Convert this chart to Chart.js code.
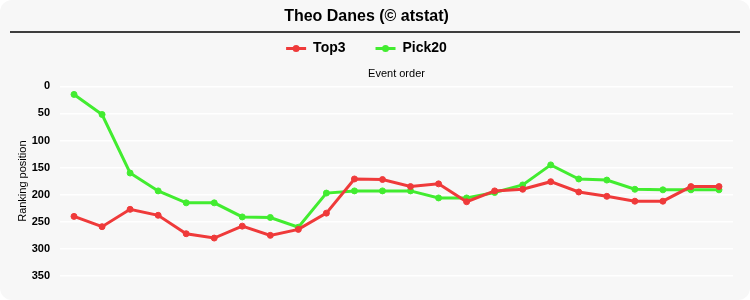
<!DOCTYPE html>
<html>
<head>
<meta charset="utf-8">
<script src="https://cdn.jsdelivr.net/npm/chart.js@4"></script>
<style>
  html,body{margin:0;padding:0;background:#ffffff;}
  #wrap{width:750px;height:300px;background:#f7f7f7;border-radius:12px;overflow:hidden;position:relative;}
  canvas{display:block;}
</style>
</head>
<body>
<div id="wrap"><canvas id="c" width="750" height="300"></canvas></div>
<script>
const titleText = 'Theo Danes (\u00a9 atstat)';
const events = ['1','2','3','4','5','6','7','8','9','10','11','12','13','14','15','16','17','18','19','20','21','22','23','24'];
const top3 =   [240, 259, 227, 238, 272, 280, 258, 275, 264, 234, 171, 172, 185, 180, 213, 193, 190, 176, 195, 203, 212, 212, 185, 185];
const pick20 = [15, 52, 160, 193, 215, 215, 241, 242, 260, 197, 193, 193, 193, 206, 206, 196, 182, 145, 171, 173, 190, 191, 191, 191];
const yTicks = [0, 50, 100, 150, 200, 250, 300, 350];

const RED = '#ef3a3a';
const GREEN = '#42ec30';
const arial = "'Liberation Sans',Arial,sans-serif";

const decor = {
  id: 'decor',
  afterDraw(chart) {
    const ctx = chart.ctx;
    ctx.save();
    ctx.strokeStyle = '#000';
    ctx.lineWidth = 1.5;
    ctx.beginPath();
    ctx.moveTo(10, 32);
    ctx.lineTo(740, 32);
    ctx.stroke();
    const lg = chart.legend;
    if (lg && lg.legendHitBoxes) {
      lg.legendHitBoxes.forEach((b, i) => {
        const ds = chart.data.datasets[i];
        const cx = b.left + lg.options.labels.boxWidth / 2;
        const cy = b.top + b.height / 2;
        ctx.fillStyle = ds.borderColor;
        ctx.beginPath();
        ctx.arc(cx, cy, 3.5, 0, Math.PI * 2);
        ctx.fill();
      });
    }
    ctx.restore();
  }
};

new Chart(document.getElementById('c'), {
  type: 'line',
  data: {
    labels: events,
    datasets: [
      { label: 'Top3', data: top3, borderColor: RED, backgroundColor: RED, pointBackgroundColor: RED, pointBorderColor: RED, borderWidth: 3, pointRadius: 3, pointBorderWidth: 1, tension: 0 },
      { label: 'Pick20', data: pick20, borderColor: GREEN, backgroundColor: GREEN, pointBackgroundColor: GREEN, pointBorderColor: GREEN, borderWidth: 3, pointRadius: 3, pointBorderWidth: 1, tension: 0 }
    ]
  },
  options: {
    responsive: false,
    animation: false,
    layout: { padding: { left: 0, right: 17, top: 4, bottom: 24 } },
    plugins: {
      title: { display: true, text: titleText, color: '#000', font: { family: arial, size: 16, weight: 'bold' }, padding: { top: 3, bottom: -14.7 } },
      legend: {
        display: true,
        labels: {
          color: '#000', font: { family: arial, size: 14, weight: 'bold' },
          boxWidth: 20, boxHeight: 3, padding: 30,
          generateLabels(chart) {
            return chart.data.datasets.map((ds, i) => ({
              text: ds.label, fillStyle: ds.borderColor, strokeStyle: ds.borderColor, lineWidth: 0, datasetIndex: i, hidden: false, fontColor: '#000'
            }));
          }
        }
      },
      tooltip: { enabled: false }
    },
    scales: {
      x: {
        type: 'category',
        position: 'top',
        offset: true,
        grid: { display: false, drawTicks: false },
        border: { display: false },
        ticks: { display: false },
        title: { display: true, text: 'Event order', color: '#000', font: { family: arial, size: 11 }, padding: { top: 1.9, bottom: 5.7 } }
      },
      y: {
        reverse: true,
        min: 0,
        max: 350,
        afterBuildTicks(scale) { scale.ticks = yTicks.map(v => ({ value: v })); },
        afterFit(scale) { scale.width = 60; },
        grid: { color: '#ffffff', lineWidth: 1.5, drawTicks: false },
        border: { display: false },
        ticks: { color: '#000', font: { family: arial, size: 11, weight: 'bold' }, padding: 10 },
        title: { display: true, text: 'Ranking position', color: '#000', font: { family: arial, size: 11 }, padding: { top: 16, bottom: 0 } }
      }
    }
  },
  plugins: [decor]
});
</script>
</body>
</html>
